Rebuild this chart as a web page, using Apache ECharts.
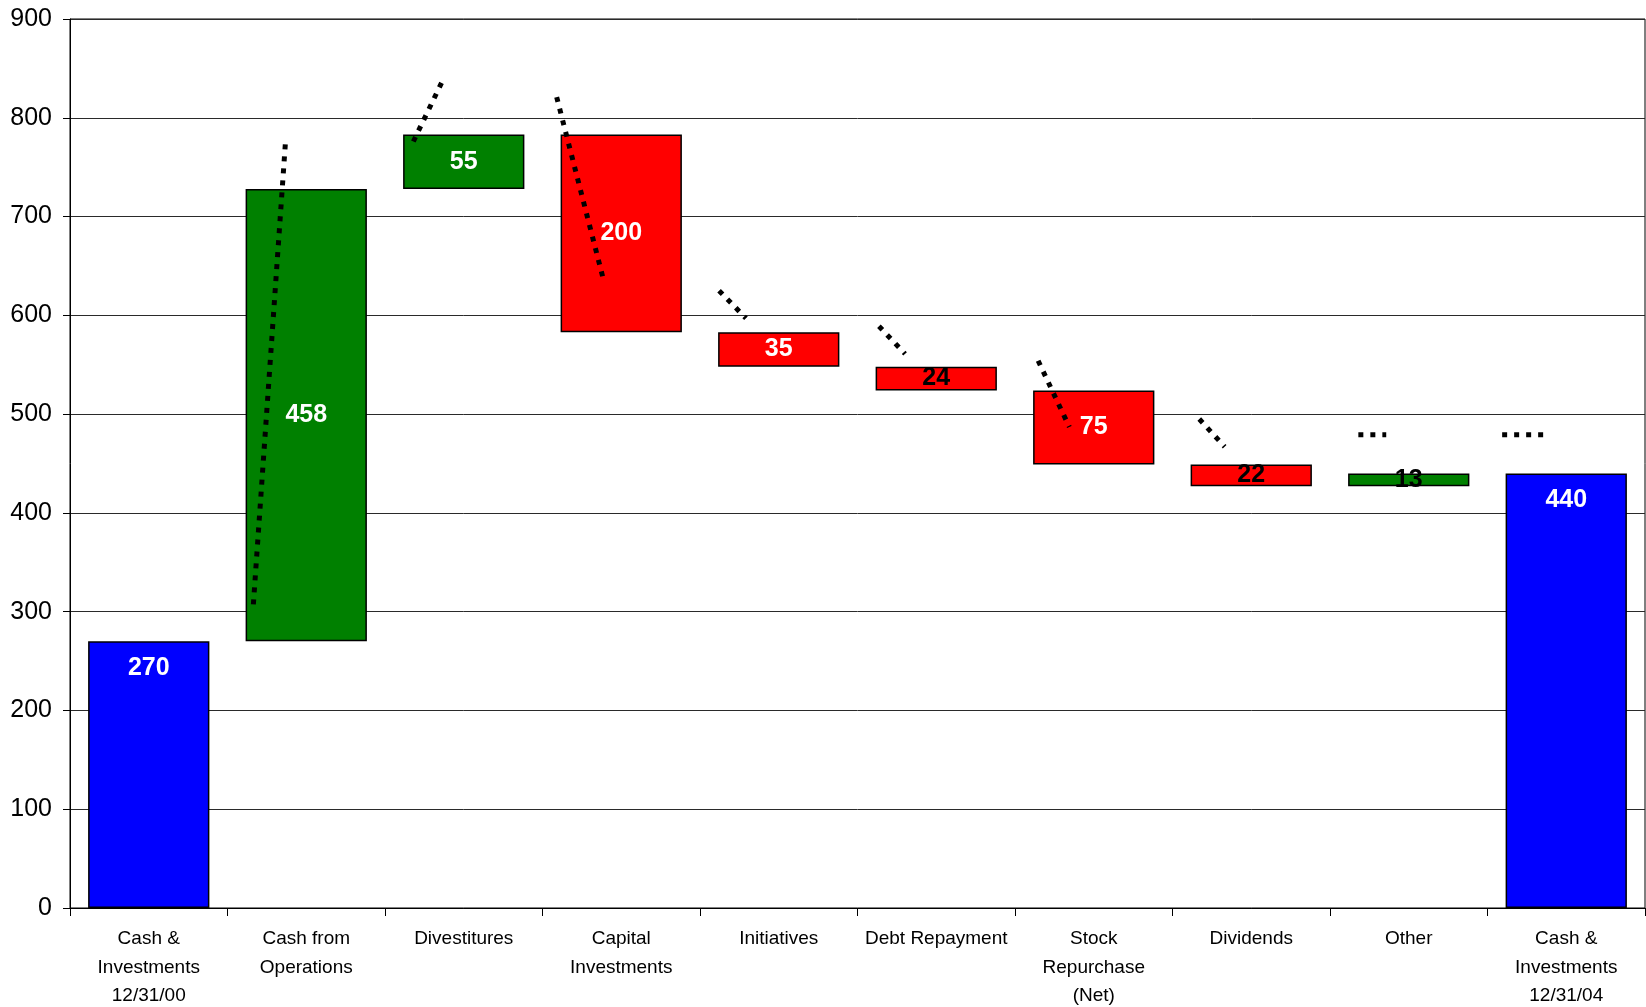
<!DOCTYPE html>
<html>
<head>
<meta charset="utf-8">
<title>Cash &amp; Investments Bridge</title>
<script src="https://cdn.jsdelivr.net/npm/echarts@6/dist/echarts.min.js"></script>
<style>
  html, body { margin: 0; padding: 0; background: #ffffff; }
  #chart { width: 1646px; height: 1007px; }
</style>
</head>
<body>
<div id="chart"></div>
<script>
// Categories of the cash bridge (line breaks as printed under the axis)
const categories = [
  'Cash &\nInvestments\n12/31/00',
  'Cash from\nOperations',
  'Divestitures',
  'Capital\nInvestments',
  'Initiatives',
  'Debt Repayment',
  'Stock\nRepurchase\n(Net)',
  'Dividends',
  'Other',
  'Cash &\nInvestments\n12/31/04'
];

// Signed movements; first and last entries are balances
const changes = [270, 458, 55, -200, -35, -24, -75, -22, 13, 440];
const kinds = ['total', 'up', 'up', 'down', 'down', 'down', 'down', 'down', 'up', 'total'];

// Value labels drawn in black instead of white
const darkLabels = [false, false, false, false, false, true, false, true, true, false];

// Y axis ticks
const yMin = 0, yMax = 900, yStep = 100;

// Dotted connector strokes, in (category position, value) units
const connectors = [
  [[1.367, 773], [1.164, 307]],
  [[2.180, 776], [2.370, 839]],
  [[3.090, 821], [3.392, 633]],
  [[4.121, 625], [4.292, 597]],
  [[5.136, 589], [5.302, 561]],
  [[6.147, 554], [6.345, 487]],
  [[7.170, 495], [7.331, 467]],
  [[8.180, 479], [8.357, 479]],
  [[9.093, 479], [9.392, 479]]
];

const colors = { total: '#0000ff', up: '#008000', down: '#ff0000' };

// Build floating-bar bases and heights from the running total
const bases = [];
const heights = [];
let running = 0;
changes.forEach((c, i) => {
  if (kinds[i] === 'total') {
    bases.push(0);
    heights.push(Math.abs(c));
    running = c;
  } else if (c >= 0) {
    bases.push(running);
    heights.push(c);
    running += c;
  } else {
    running += c;
    bases.push(running);
    heights.push(-c);
  }
});

const FONT = '"Liberation Sans", Arial, sans-serif';
const NARROW = '"Liberation Sans Narrow", "Arial Narrow", "Liberation Sans", sans-serif';

const barData = heights.map((h, i) => ({
  value: h,
  itemStyle: { color: colors[kinds[i]] },
  label: {
    position: kinds[i] === 'total' ? 'insideTop' : 'inside',
    distance: 14,
    color: darkLabels[i] ? '#000000' : '#ffffff'
  }
}));

const connectorSeries = connectors.map(seg => ({
  type: 'line',
  xAxisIndex: 1,
  yAxisIndex: 0,
  data: seg,
  symbol: 'none',
  silent: true,
  z: 5,
  lineStyle: { color: '#000000', width: 5, type: [5, 7], cap: 'butt' }
}));

const chart = echarts.init(document.getElementById('chart'), null, { renderer: 'canvas' });

chart.setOption({
  animation: false,
  backgroundColor: '#ffffff',
  grid: {
    left: 70, right: 1, top: 19, bottom: 99,
    outerBoundsMode: 'none',
    containLabel: false,
    show: true, borderColor: '#000000', borderWidth: 1
  },
  xAxis: [
    {
      type: 'category',
      data: categories,
      axisLine: { show: true, lineStyle: { color: '#000000', width: 1 } },
      axisTick: { show: true, length: 8, alignWithLabel: false, lineStyle: { color: '#000000' } },
      axisLabel: {
        interval: 0,
        margin: 17,
        color: '#000000',
        fontFamily: NARROW,
        fontSize: 19,
        lineHeight: 28.5
      },
      splitLine: { show: false }
    },
    {
      type: 'value',
      min: 0, max: 10,
      show: false,
      position: 'bottom'
    }
  ],
  yAxis: {
    type: 'value',
    min: yMin, max: yMax, interval: yStep,
    axisLine: { show: true, lineStyle: { color: '#000000', width: 1 } },
    axisTick: { show: true, length: 7, lineStyle: { color: '#000000' } },
    axisLabel: {
      margin: 18,
      color: '#000000',
      fontFamily: FONT,
      fontSize: 25
    },
    splitLine: { show: true, lineStyle: { color: '#2a2a2a', width: 1 } }
  },
  series: [
    {
      type: 'bar',
      stack: 'bridge',
      data: bases,
      barWidth: '77%',
      silent: true,
      itemStyle: { color: 'rgba(0,0,0,0)' },
      label: { show: false }
    },
    {
      type: 'bar',
      stack: 'bridge',
      data: barData,
      barWidth: '77%',
      itemStyle: { borderColor: '#000000', borderWidth: 1.5 },
      label: {
        show: true,
        formatter: '{c}',
        fontFamily: FONT,
        fontWeight: 'bold',
        fontSize: 25
      }
    }
  ].concat(connectorSeries)
});
</script>
</body>
</html>
